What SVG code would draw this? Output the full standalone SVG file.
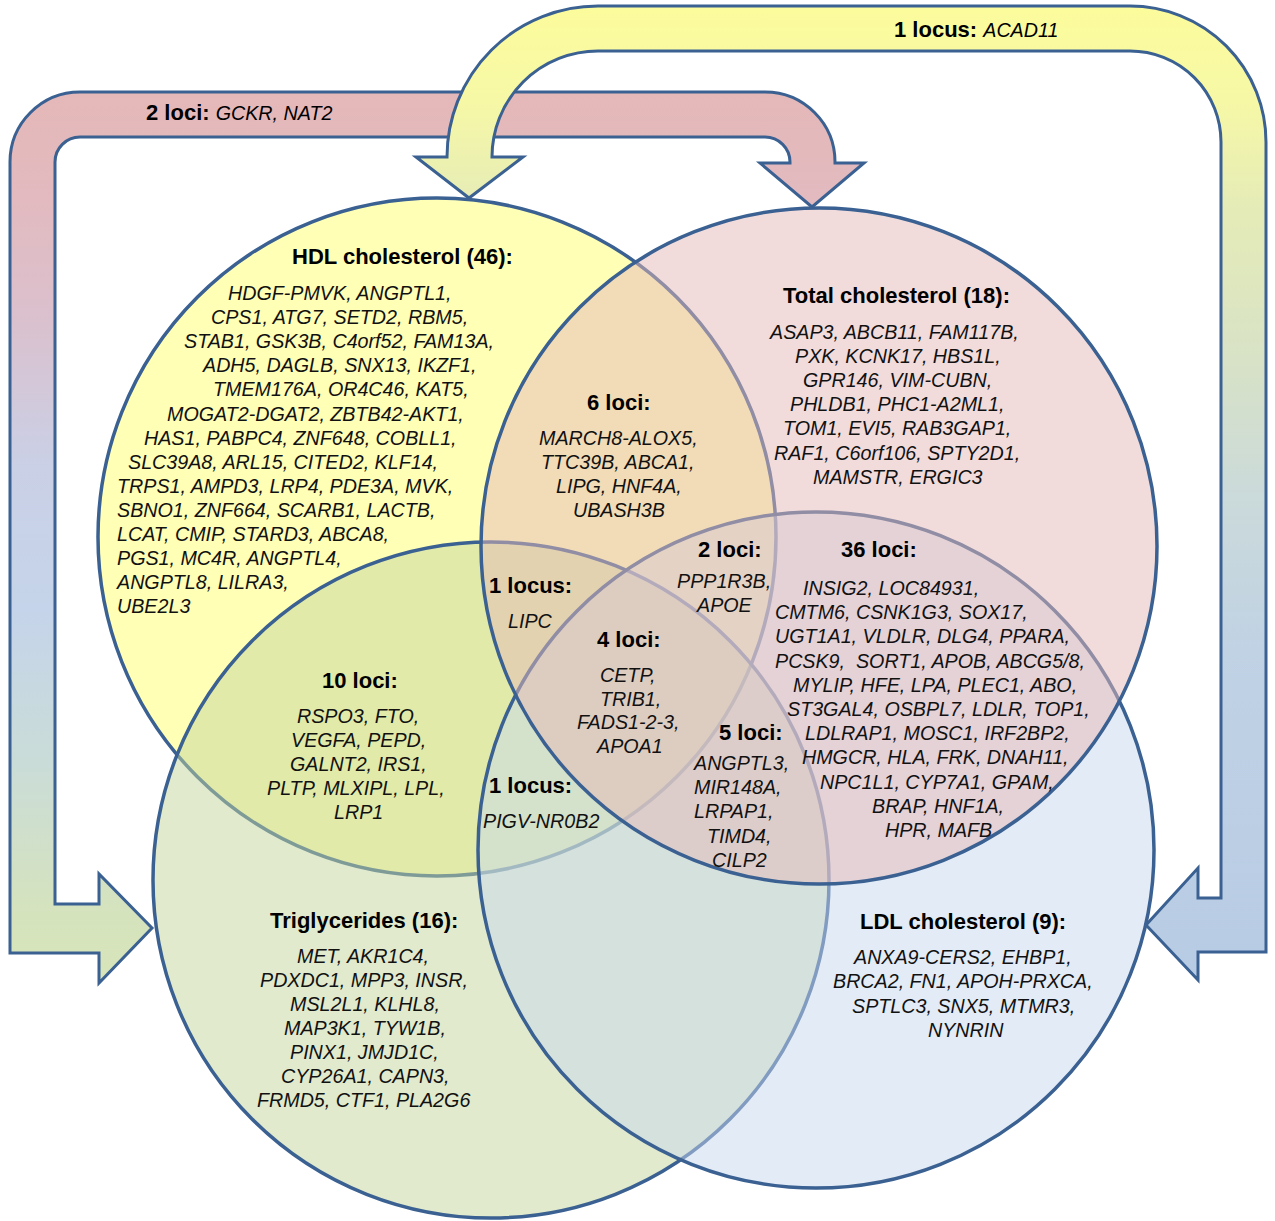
<svg xmlns="http://www.w3.org/2000/svg" width="1275" height="1221" viewBox="0 0 1275 1221">
<defs>
<style>
.c{stroke:#3A6192;stroke-width:3.5;fill-opacity:.5}
.arrow{stroke:#3A6192;stroke-width:3;stroke-linejoin:miter}
.t{font-family:"Liberation Sans",Arial,sans-serif;font-size:19.7px;font-style:italic;fill:#111}
.b{font-family:"Liberation Sans",Arial,sans-serif;font-size:22px;font-weight:bold;fill:#000}
.bi{font-weight:normal;font-style:italic;font-size:19.7px}
</style>
<linearGradient id="gPink" gradientUnits="userSpaceOnUse" x1="0" y1="90" x2="0" y2="985">
<stop offset="0" stop-color="#E5B8B8"/>
<stop offset="0.12" stop-color="#E2BABF"/>
<stop offset="0.25" stop-color="#DBC0CD"/>
<stop offset="0.42" stop-color="#CAD0E6"/>
<stop offset="0.58" stop-color="#C5D4EA"/>
<stop offset="0.75" stop-color="#CADCD8"/>
<stop offset="0.92" stop-color="#D5E3BD"/>
<stop offset="1" stop-color="#D8E5BA"/>
</linearGradient>
<linearGradient id="gYellow" gradientUnits="userSpaceOnUse" x1="0" y1="5" x2="0" y2="985">
<stop offset="0" stop-color="#FCFC9C"/>
<stop offset="0.1" stop-color="#F6F8A6"/>
<stop offset="0.2" stop-color="#E6ECB6"/>
<stop offset="0.36" stop-color="#D8E2C6"/>
<stop offset="0.5" stop-color="#CBDADA"/>
<stop offset="0.66" stop-color="#C0D2E4"/>
<stop offset="1" stop-color="#B7CBE4"/>
</linearGradient>
</defs>
<rect width="1275" height="1221" fill="#FFFFFF"/>

<g id="connectors">
<path id="arrow-tc" class="arrow" fill="url(#gPink)" d="M99,953 L10,953 L10,162 A70,70 0 0 1 80,92 L765,92 A70,70 0 0 1 835,162 L835,163 L864,163 L812,207 L760,163 L790,163 L790,162 A25,25 0 0 0 765,137 L80,137 A25,25 0 0 0 55,162 L55,904 L99,904 L99,874 L152,928 L99,983 Z"/>
<path id="arrow-hdl" class="arrow" fill="url(#gYellow)" d="M1198,952 L1266,952 L1266,142 A136,136 0 0 0 1130,6 L598,6 A151,151 0 0 0 447,157 L416,157 L469,198 L523,157 L492,157 A106,106 0 0 1 598,51 L1130,51 A91,91 0 0 1 1221,142 L1221,898 L1198,898 L1198,868 L1146,925 L1198,980 Z"/>
<text class="b" x="146" y="120">2 loci: <tspan class="bi">GCKR, NAT2</tspan></text>
<text class="b" x="894" y="37">1 locus: <tspan class="bi">ACAD11</tspan></text>
</g>

<g id="hdl">
<circle class="c" cx="437" cy="537" r="339" fill="#FFFF6E"/>
<text class="b" x="292" y="264">HDL cholesterol (46):</text>
<text class="t" x="228" y="300">HDGF-PMVK, ANGPTL1,</text>
<text class="t" x="211" y="324.1">CPS1, ATG7, SETD2, RBM5,</text>
<text class="t" x="184" y="348.2">STAB1, GSK3B, C4orf52, FAM13A,</text>
<text class="t" x="203" y="372.3">ADH5, DAGLB, SNX13, IKZF1,</text>
<text class="t" x="213" y="396.4">TMEM176A, OR4C46, KAT5,</text>
<text class="t" x="167" y="420.5">MOGAT2-DGAT2, ZBTB42-AKT1,</text>
<text class="t" x="144" y="444.6">HAS1, PABPC4, ZNF648, COBLL1,</text>
<text class="t" x="128" y="468.7">SLC39A8, ARL15, CITED2, KLF14,</text>
<text class="t" x="117" y="492.8">TRPS1, AMPD3, LRP4, PDE3A, MVK,</text>
<text class="t" x="117" y="516.9">SBNO1, ZNF664, SCARB1, LACTB,</text>
<text class="t" x="117" y="541">LCAT, CMIP, STARD3, ABCA8,</text>
<text class="t" x="117" y="565.1">PGS1, MC4R, ANGPTL4,</text>
<text class="t" x="117" y="589.2">ANGPTL8, LILRA3,</text>
<text class="t" x="117" y="613.3">UBE2L3</text>
</g>

<g id="triglycerides">
<circle class="c" cx="491" cy="880" r="338" fill="#C3D69B"/>
<text class="b" x="270" y="928">Triglycerides (16):</text>
<text class="t" x="297" y="963">MET, AKR1C4,</text>
<text class="t" x="260" y="987">PDXDC1, MPP3, INSR,</text>
<text class="t" x="290" y="1011">MSL2L1, KLHL8,</text>
<text class="t" x="284" y="1035">MAP3K1, TYW1B,</text>
<text class="t" x="290" y="1059">PINX1, JMJD1C,</text>
<text class="t" x="281" y="1083">CYP26A1, CAPN3,</text>
<text class="t" x="257" y="1107">FRMD5, CTF1, PLA2G6</text>
</g>

<g id="ldl">
<circle class="c" cx="816" cy="850" r="338" fill="#C8D8EE"/>
<text class="b" x="860" y="929">LDL cholesterol (9):</text>
<text class="t" x="854" y="964">ANXA9-CERS2, EHBP1,</text>
<text class="t" x="833" y="988.3">BRCA2, FN1, APOH-PRXCA,</text>
<text class="t" x="852" y="1012.6">SPTLC3, SNX5, MTMR3,</text>
<text class="t" x="928" y="1036.9">NYNRIN</text>
</g>

<g id="total">
<circle class="c" cx="819" cy="546" r="338" fill="#E6B9B8"/>
<text class="b" x="783" y="303">Total cholesterol (18):</text>
<text class="t" x="770" y="338.5">ASAP3, ABCB11, FAM117B,</text>
<text class="t" x="795" y="362.7">PXK, KCNK17, HBS1L,</text>
<text class="t" x="803" y="386.9">GPR146, VIM-CUBN,</text>
<text class="t" x="790" y="411.1">PHLDB1, PHC1-A2ML1,</text>
<text class="t" x="783" y="435.3">TOM1, EVI5, RAB3GAP1,</text>
<text class="t" x="774" y="459.5">RAF1, C6orf106, SPTY2D1,</text>
<text class="t" x="813" y="483.7">MAMSTR, ERGIC3</text>
</g>

<g id="overlaps">
<g id="hdl-total">
<text class="b" x="587" y="410">6 loci:</text>
<text class="t" x="539" y="445">MARCH8-ALOX5,</text>
<text class="t" x="541" y="469">TTC39B, ABCA1,</text>
<text class="t" x="556" y="493">LIPG, HNF4A,</text>
<text class="t" x="573" y="517">UBASH3B</text>
</g>
<g id="total-ldl">
<text class="b" x="841" y="557">36 loci:</text>
<text class="t" x="803" y="595">INSIG2, LOC84931,</text>
<text class="t" x="775" y="619.2">CMTM6, CSNK1G3, SOX17,</text>
<text class="t" x="775" y="643.4">UGT1A1, VLDLR, DLG4, PPARA,</text>
<text class="t" x="775" y="667.6" style="white-space:pre">PCSK9,  SORT1, APOB, ABCG5/8,</text>
<text class="t" x="793" y="691.8">MYLIP, HFE, LPA, PLEC1, ABO,</text>
<text class="t" x="787" y="716">ST3GAL4, OSBPL7, LDLR, TOP1,</text>
<text class="t" x="805" y="740.2">LDLRAP1, MOSC1, IRF2BP2,</text>
<text class="t" x="802" y="764.4">HMGCR, HLA, FRK, DNAH11,</text>
<text class="t" x="820" y="788.6">NPC1L1, CYP7A1, GPAM,</text>
<text class="t" x="872" y="812.8">BRAP, HNF1A,</text>
<text class="t" x="885" y="837">HPR, MAFB</text>
</g>
<g id="hdl-total-ldl">
<text class="b" x="698" y="557">2 loci:</text>
<text class="t" x="677" y="588">PPP1R3B,</text>
<text class="t" x="697" y="612">APOE</text>
</g>
<g id="hdl-total-tg">
<text class="b" x="489" y="593">1 locus:</text>
<text class="t" x="508" y="628">LIPC</text>
</g>
<g id="all-four">
<text class="b" x="597" y="647">4 loci:</text>
<text class="t" x="600" y="682">CETP,</text>
<text class="t" x="600" y="705.5">TRIB1,</text>
<text class="t" x="577" y="729">FADS1-2-3,</text>
<text class="t" x="597" y="753">APOA1</text>
</g>
<g id="total-tg-ldl">
<text class="b" x="719" y="740">5 loci:</text>
<text class="t" x="694" y="770">ANGPTL3,</text>
<text class="t" x="694" y="794">MIR148A,</text>
<text class="t" x="694" y="818">LRPAP1,</text>
<text class="t" x="707" y="843">TIMD4,</text>
<text class="t" x="712" y="867">CILP2</text>
</g>
<g id="hdl-tg-ldl">
<text class="b" x="489" y="793">1 locus:</text>
<text class="t" x="483" y="828">PIGV-NR0B2</text>
</g>
<g id="hdl-tg">
<text class="b" x="322" y="688">10 loci:</text>
<text class="t" x="297" y="723">RSPO3, FTO,</text>
<text class="t" x="291" y="747">VEGFA, PEPD,</text>
<text class="t" x="290" y="771">GALNT2, IRS1,</text>
<text class="t" x="267" y="795">PLTP, MLXIPL, LPL,</text>
<text class="t" x="334" y="819">LRP1</text>
</g>
</g>
</svg>
